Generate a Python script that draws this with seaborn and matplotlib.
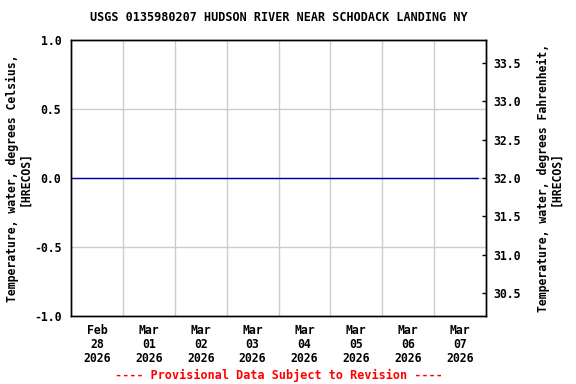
import matplotlib
matplotlib.use("Agg")
import matplotlib.pyplot as plt
import seaborn as sns
import pandas as pd

# ---- data ----
times = ["2026-02-28 00:00", "2026-03-01 00:00", "2026-03-02 00:00", "2026-03-03 00:00",
         "2026-03-04 00:00", "2026-03-05 00:00", "2026-03-06 00:00", "2026-03-07 00:00",
         "2026-03-07 20:15"]
temp_c = [0.0, 0.0, 0.0, 0.0, 0.0, 0.0, 0.0, 0.0, 0.0]
day_labels = ["Feb\n28\n2026", "Mar\n01\n2026", "Mar\n02\n2026", "Mar\n03\n2026",
              "Mar\n04\n2026", "Mar\n05\n2026", "Mar\n06\n2026", "Mar\n07\n2026"]
left_ticks = [-1.0, -0.5, 0.0, 0.5, 1.0]
right_ticks = [30.5, 31.0, 31.5, 32.0, 32.5, 33.0, 33.5]
title = "USGS 0135980207 HUDSON RIVER NEAR SCHODACK LANDING NY"
footer = "---- Provisional Data Subject to Revision ----"

df = pd.DataFrame({"time": pd.to_datetime(times), "temp": temp_c})

sns.set_theme(style="white")
plt.rcParams["font.family"] = ["DejaVu Sans Mono"]
plt.rcParams["font.weight"] = "bold"
for k in ["text.color", "axes.labelcolor", "xtick.color", "ytick.color"]:
    plt.rcParams[k] = "black"
FS = 8.3

fig = plt.figure(figsize=(5.76, 3.84), dpi=100)
ax = fig.add_axes([71/576, 1 - 316/384, (486-71)/576, (316-40)/384])

start = pd.Timestamp("2026-02-28")
end = pd.Timestamp("2026-03-08")
ax.set_xlim(start, end)
ax.set_ylim(-1.0, 1.0)

# grid
for d in pd.date_range("2026-03-01", "2026-03-07", freq="D"):
    ax.axvline(d, color="#cccccc", lw=1, zorder=0)
for y in [-0.5, 0.0, 0.5]:
    ax.axhline(y, color="#cccccc", lw=1, zorder=0)

sns.lineplot(data=df, x="time", y="temp", ax=ax, color="#0000aa", lw=1, zorder=3)

noon = pd.date_range("2026-02-28 12:00", periods=8, freq="D")
ax.set_xticks(noon)
ax.set_xticklabels(day_labels, fontsize=FS, fontweight="bold", linespacing=1.1)
ax.tick_params(axis="x", length=0, pad=6)

ax.set_yticks(left_ticks)
ax.set_yticklabels([f"{v:.1f}" for v in left_ticks], fontsize=FS, fontweight="bold")
ax.tick_params(axis="y", length=0, pad=7)
ax.set_xlabel("")
ax.set_ylabel("Temperature, water, degrees Celsius,\n[HRECOS]", fontsize=FS,
              fontweight="bold", labelpad=1.5, linespacing=0.95)

for s in ax.spines.values():
    s.set_color("black")
    s.set_linewidth(1)
    s.set_visible(True)

ax2 = ax.twinx()
ax2.set_ylim(32 + 1.8 * -1.0, 32 + 1.8 * 1.0)
ax2.set_yticks(right_ticks)
ax2.set_yticklabels([f"{v:.1f}" for v in right_ticks], fontsize=FS, fontweight="bold")
ax2.tick_params(axis="y", direction="in", length=3, width=1, color="black", pad=5,
                right=True, labelright=True)
ax2.set_ylabel("Temperature, water, degrees Fahrenheit,\n[HRECOS]", fontsize=FS,
               fontweight="bold", labelpad=12, linespacing=0.95)
ax2.grid(False)
for s in ax2.spines.values():
    s.set_color("black")
    s.set_linewidth(1)

ax.set_title(title, fontsize=8.5, fontweight="bold", pad=14)
fig.text((71 + 486) / 2 / 576, 1 - 375 / 384, footer, color="red", fontsize=8.5,
         fontweight="bold", ha="center", va="center")

fig.savefig("out.png", dpi=100, facecolor="white")
